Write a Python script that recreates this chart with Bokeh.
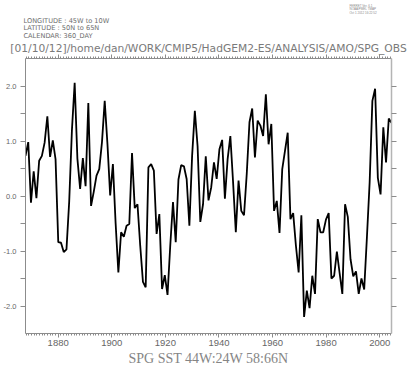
from bokeh.plotting import figure
from bokeh.models import Range1d, FixedTicker, LinearAxis, Title, CustomJSTickFormatter
from bokeh.embed import file_html
from bokeh.resources import INLINE

# ---------------- data ----------------
years = list(range(1870, 2005))
sst_index = [
    0.73, 0.98, -0.12, 0.45, -0.04, 0.64, 0.73, 0.97, 1.45, 0.71,
    1.01, 0.67, -0.84, -0.85, -1.02, -0.97, -0.10, 1.20, 2.06, 0.68,
    0.13, 0.69, 0.18, 1.69, -0.18, 0.08, 0.37, 0.49, 0.98, 1.73,
    0.95, 0.01, 0.58, -0.50, -1.39, -0.66, -0.74, -0.54, -0.51, 0.78,
    -0.22, -0.15, -0.90, -1.56, -1.66, 0.52, 0.58, 0.46, -0.69, -0.33,
    -1.69, -1.44, -1.80, -0.90, -0.11, -0.84, 0.30, 0.56, 0.54, 0.31,
    -0.54, 0.73, 1.55, 0.91, -0.47, -0.15, 0.72, -0.08, 0.16, 0.61,
    0.31, 0.85, 1.02, -0.05, 0.67, 1.09, 0.25, -0.66, 0.28, -0.27,
    -0.35, 0.40, 1.34, 1.59, 0.70, 1.37, 1.28, 1.09, 1.85, 0.94,
    1.31, -0.27, -0.09, -0.67, 0.49, 0.82, 1.15, -0.42, -0.31, -0.90,
    -1.39, -0.35, -2.20, -1.72, -2.04, -1.45, -1.78, -0.42, -0.66, -0.66,
    -0.43, -0.31, -1.50, -1.45, -1.01, -1.40, -1.78, -0.15, -0.38, -1.15,
    -1.46, -1.37, -1.78, -1.50, -1.70, -0.75, 0.25, 1.73, 1.95, 0.33,
    0.03, 1.25, 0.61, 1.41, 1.33,
]
x_tick_years = [1880, 1900, 1920, 1940, 1960, 1980, 2000]
y_ticks = [-2.0, -1.5, -1.0, -0.5, 0.0, 0.5, 1.0, 1.5, 2.0]
header_lines = ["LONGITUDE : 45W to 10W", "LATITUDE : 50N to 65N", "CALENDAR: 360_DAY"]
ferret_lines = ["FERRET Ver. 6.1", "NOAA/PMEL TMAP", "Oct  1 2012 16:22:52"]
path_text = "[01/10/12]/home/dan/WORK/CMIP5/HadGEM2-ES/ANALYSIS/AMO/SPG_OBS"
title_text = "SPG SST 44W:24W 58:66N"

# time axis drawn in a 360-day calendar: axis years at the two data ends
AXIS_START, AXIS_END = 1867.8, 2004.4
RATIO = (years[-1] - years[0]) / (AXIS_END - AXIS_START)


def axis_to_data(a):
    return years[0] + (a - AXIS_START) * RATIO


# ---------------- layout ----------------
W, H = 407, 366
BL, BR, BT, BB = 25, 16, 58, 33
Y0, Y1 = -2.5, 2.5

p = figure(width=W, height=H, output_backend="svg", toolbar_location=None,
           x_range=Range1d(years[0], years[-1]), y_range=Range1d(Y0, Y1),
           min_border_left=BL, min_border_right=BR, min_border_top=BT,
           min_border_bottom=BB)
p.outline_line_color = None
p.xgrid.visible = False
p.ygrid.visible = False
p.background_fill_color = "white"
p.border_fill_color = "white"

p.line(years, sst_index, line_color="black", line_width=1.8)

major_x = [axis_to_data(a) for a in x_tick_years]
minor_x = [axis_to_data(a) for a in range(1868, 2005)]
x_ticker = FixedTicker(ticks=major_x, minor_ticks=minor_x)
x_fmt = CustomJSTickFormatter(args=dict(a0=AXIS_START, d0=years[0], r=RATIO),
                              code="return String(Math.round(a0 + (tick - d0) / r));")
empty_fmt = CustomJSTickFormatter(code="return '';")
y_ticker = FixedTicker(ticks=y_ticks, minor_ticks=[])
y_fmt = CustomJSTickFormatter(
    code="return (Math.abs(tick - Math.round(tick)) < 1e-6) ? tick.toFixed(1) : '';")

AX = "#8c8c8c"


def style(ax):
    ax.axis_line_color = AX
    ax.major_tick_line_color = AX
    ax.minor_tick_line_color = AX
    ax.major_tick_in = 0
    ax.minor_tick_in = 0


bx = p.below[0]
bx.ticker = x_ticker
bx.formatter = x_fmt
style(bx)
bx.major_tick_out = 4
bx.minor_tick_out = 2
bx.major_label_standoff = 2
bx.major_label_text_font = "Liberation Sans"
bx.major_label_text_font_size = "9.5px"
bx.major_label_text_color = "#666666"

ly = p.left[0]
ly.ticker = y_ticker
ly.formatter = y_fmt
style(ly)
ly.major_tick_out = 5
ly.major_label_standoff = 4
ly.major_label_text_font = "Liberation Sans"
ly.major_label_text_font_size = "7.5px"
ly.major_label_text_color = "#666666"

tx = LinearAxis(ticker=x_ticker, formatter=empty_fmt)
style(tx)
tx.major_tick_out = 4
tx.minor_tick_out = 2
tx.major_label_text_font_size = "0px"
tx.major_label_standoff = 0
p.add_layout(tx, "above")

ry = LinearAxis(ticker=y_ticker, formatter=empty_fmt)
style(ry)
ry.axis_line_color = "#b4b4b4"
ry.axis_line_width = 1.5
ry.major_tick_out = 5
ry.major_label_text_font_size = "0px"
ry.major_label_standoff = 0
p.add_layout(ry, "right")

# ------------- texts (panels stacked outward from the frame) -------------
p.add_layout(Title(text=path_text, align="center", offset=0, text_font="DejaVu Sans",
                   text_font_size="10.7px", text_font_style="normal",
                   text_color="#7a7a7a", standoff=-1), "above")
p.add_layout(Title(text="\n".join(header_lines), align="left", offset=-2,
                   text_font="DejaVu Sans", text_font_size="6.6px",
                   text_font_style="normal", text_line_height=0.95,
                   text_color="#6e6e6e", standoff=1), "above")
p.add_layout(Title(text="\n".join(ferret_lines), align="right", offset=14,
                   text_font="Liberation Sans", text_font_size="3px",
                   text_font_style="normal", text_line_height=1.1,
                   text_color="#8a8a8a", standoff=0), "above")

p.add_layout(Title(text=title_text, align="center", text_font="Liberation Serif",
                   text_font_size="14px", text_font_style="normal",
                   text_color="#858585", standoff=0), "below")

open("out.html", "w").write(file_html(p, INLINE))
